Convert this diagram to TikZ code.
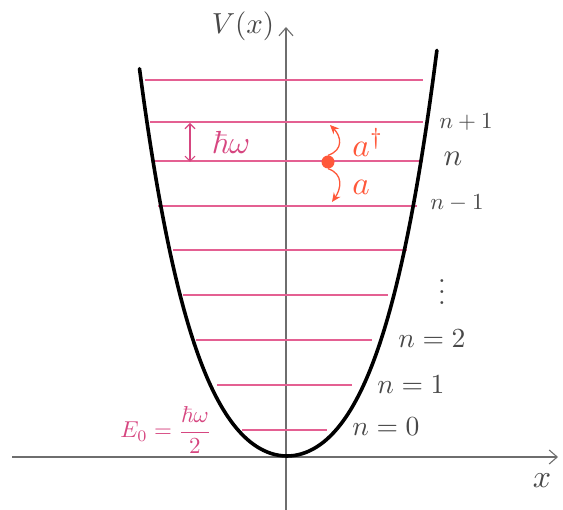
\documentclass[tikz,border=0pt]{standalone}
\usepackage{amsmath,amssymb}
\usepackage{tikz}
\usetikzlibrary{arrows.meta,positioning}
\usepackage{xcolor}

\definecolor{levelpink}{RGB}{228,96,146}
\definecolor{labelpink}{RGB}{214,70,128}
\definecolor{ladderred}{RGB}{255,88,58}
\definecolor{axisgray}{RGB}{110,110,110}
\definecolor{textgray}{RGB}{72,72,72}

\tikzset{
	axis/.style={draw=axisgray, line width=1.1pt},
	level/.style={draw=levelpink, line width=1.1pt},
	potential/.style={draw=black, line width=3.6pt, line cap=round},
	ladder/.style={draw=ladderred, line width=1.3pt, -{Stealth[length=9pt,width=8pt]}},
	redot/.style={circle, fill=ladderred, inner sep=0pt, minimum size=13pt},
	lvl/.style={text=textgray, scale=2.3, inner sep=0pt},
	pinklbl/.style={text=labelpink, inner sep=0pt}
}

\begin{document}
\begin{tikzpicture}[x=1pt, y=-1pt]
	\useasboundingbox (0,0) rectangle (563,510);

	% axes
	\draw[axis, -{Straight Barb[length=8pt,width=14pt]}] (12,457) -- (558,457);
	\draw[axis, -{Straight Barb[length=8pt,width=14pt]}] (286,510) -- (286,27);
	\node[text=textgray, scale=2.9, inner sep=0pt] (vlabel) at (243,26) {$V(x)$};
	\node[text=textgray, scale=3.2, inner sep=0pt] (xlabel) at (542,481) {$x$};

	% energy levels
	\foreach \y/\xl/\xr in {80/145/423, 122/150/423, 161/155/423, 206/158/417,
		250/173/407, 295/183/388, 340/196/372, 385/217/352, 430/242/327}
		\draw[level] (\xl,\y) -- (\xr,\y);

	% the well (u = x/100)
	\draw[potential] plot[domain=-1.475:1.5, samples=80, smooth]
		({287+100*\x}, {456-99.7*\x*\x-36*\x*\x*\x*\x});

	% level labels
	\node[lvl] (np1) at (466,122) {$n+1$};
	\node[lvl, scale=1.35] (nn) at (453,159) {$n$};
	\node[lvl] (nm1) at (457,203) {$n-1$};
	\node[lvl, scale=1.2] (vdots) at (442,284) {$\vdots$};
	\node[lvl, scale=1.2] (n2) at (432,339) {$n=2$};
	\node[lvl, scale=1.2] (n1) at (411,385) {$n=1$};
	\node[lvl, scale=1.2] (n0) at (386,427) {$n=0$};

	% spacing
	\coordinate (gaptop) at (190,123);
	\coordinate (gapbot) at (190,162);
	\draw[draw=labelpink, line width=1.1pt, {Straight Barb[length=5pt,width=10pt]}-{Straight Barb[length=5pt,width=10pt]}] (gaptop) -- (gapbot);
	\node[pinklbl, scale=3.2] (hw) at (231,142) {$\hbar\omega$};
	\node[pinklbl, scale=2.3] (ezero) at (166,430) {$E_0=\dfrac{\hbar\omega}{2}$};

	% ladder operators
	\node[redot] (dot) at (328,162) {};
	\draw[ladder] (dot.north) .. controls (344,150) and (341,136) .. (330,125);
	\draw[ladder] (dot.south) .. controls (344,174) and (341,189) .. (332,202);
	\node[text=ladderred, scale=3.3, inner sep=0pt] (adag) at (368,142) {$a^{\dagger}$};
	\node[text=ladderred, scale=3.3, inner sep=0pt] (aop) at (361,187) {$a$};
\end{tikzpicture}
\end{document}
